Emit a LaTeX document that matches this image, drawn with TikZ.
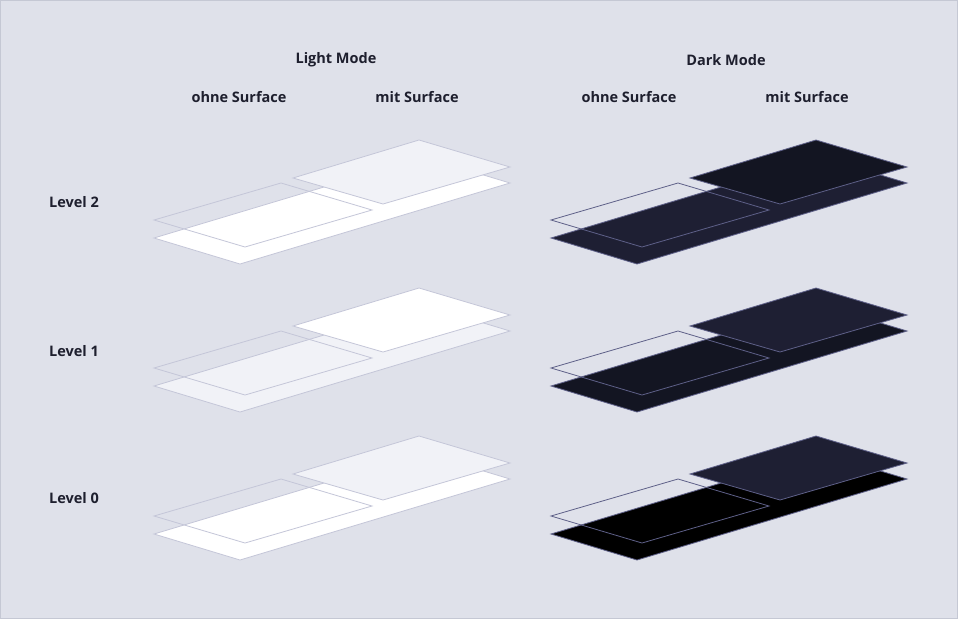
\documentclass[tikz,border=0pt]{standalone}
\usepackage{fontspec}
\setmainfont{Open Sans}[BoldFont={* Bold}]
\definecolor{bg}{HTML}{DFE1EA}
\definecolor{frame}{HTML}{C5C8D4}
\definecolor{lstroke}{HTML}{C4C6D8}
\definecolor{dstroke}{HTML}{5E6088}
\definecolor{lgrey}{HTML}{F1F2F7}
\definecolor{dA}{HTML}{1E1F33}
\definecolor{dB}{HTML}{131522}
\definecolor{txt}{HTML}{1E1F2E}
\tikzset{lab/.style={font=\fontsize{14.5}{16}\selectfont\bfseries, text=txt, inner sep=0pt}}
\newcommand{\plates}[6]{% dx, dy, stroke, basefill, outlinefill(none ok), surffill
\begin{scope}[shift={(#1,#2)}]
\path[fill=#4, draw=#3, line width=0.8pt] (154,238) -- (240,264) -- (510,183) -- (424,157) -- cycle;
\draw[#3, line width=0.8pt] (154,220) -- (281,183) -- (372,210) -- (245,247) -- cycle;
\path[fill=#6, draw=#3, line width=0.8pt] (293,178) -- (419,140) -- (510,167) -- (383,204) -- cycle;
\end{scope}}
\begin{document}
\begin{tikzpicture}[x=1pt,y=-1pt]
\path[fill=bg, draw=frame, line width=1pt] (0.5,0.5) rectangle (957.5,618.5);
\node[lab] (lm) at (336,60) {Light Mode};
\node[lab] (dm) at (726,60) {Dark Mode};
\node[lab] (l1) at (239,97) {ohne Surface};
\node[lab] (l2) at (417,97) {mit Surface};
\node[lab] (d1) at (629,97) {ohne Surface};
\node[lab] (d2) at (807,97) {mit Surface};
\node[lab, anchor=west] (v2) at (49,202) {Level 2};
\node[lab, anchor=west] (v1) at (49,351) {Level 1};
\node[lab, anchor=west] (v0) at (49,498) {Level 0};
\plates{0}{0}{lstroke}{white}{}{lgrey}
\plates{0}{148}{lstroke}{lgrey}{}{white}
\plates{0}{296}{lstroke}{white}{}{lgrey}
\plates{397}{0}{dstroke}{dA}{}{dB}
\plates{397}{148}{dstroke}{dB}{}{dA}
\plates{397}{296}{dstroke}{black}{}{dA}
\end{tikzpicture}
\end{document}
